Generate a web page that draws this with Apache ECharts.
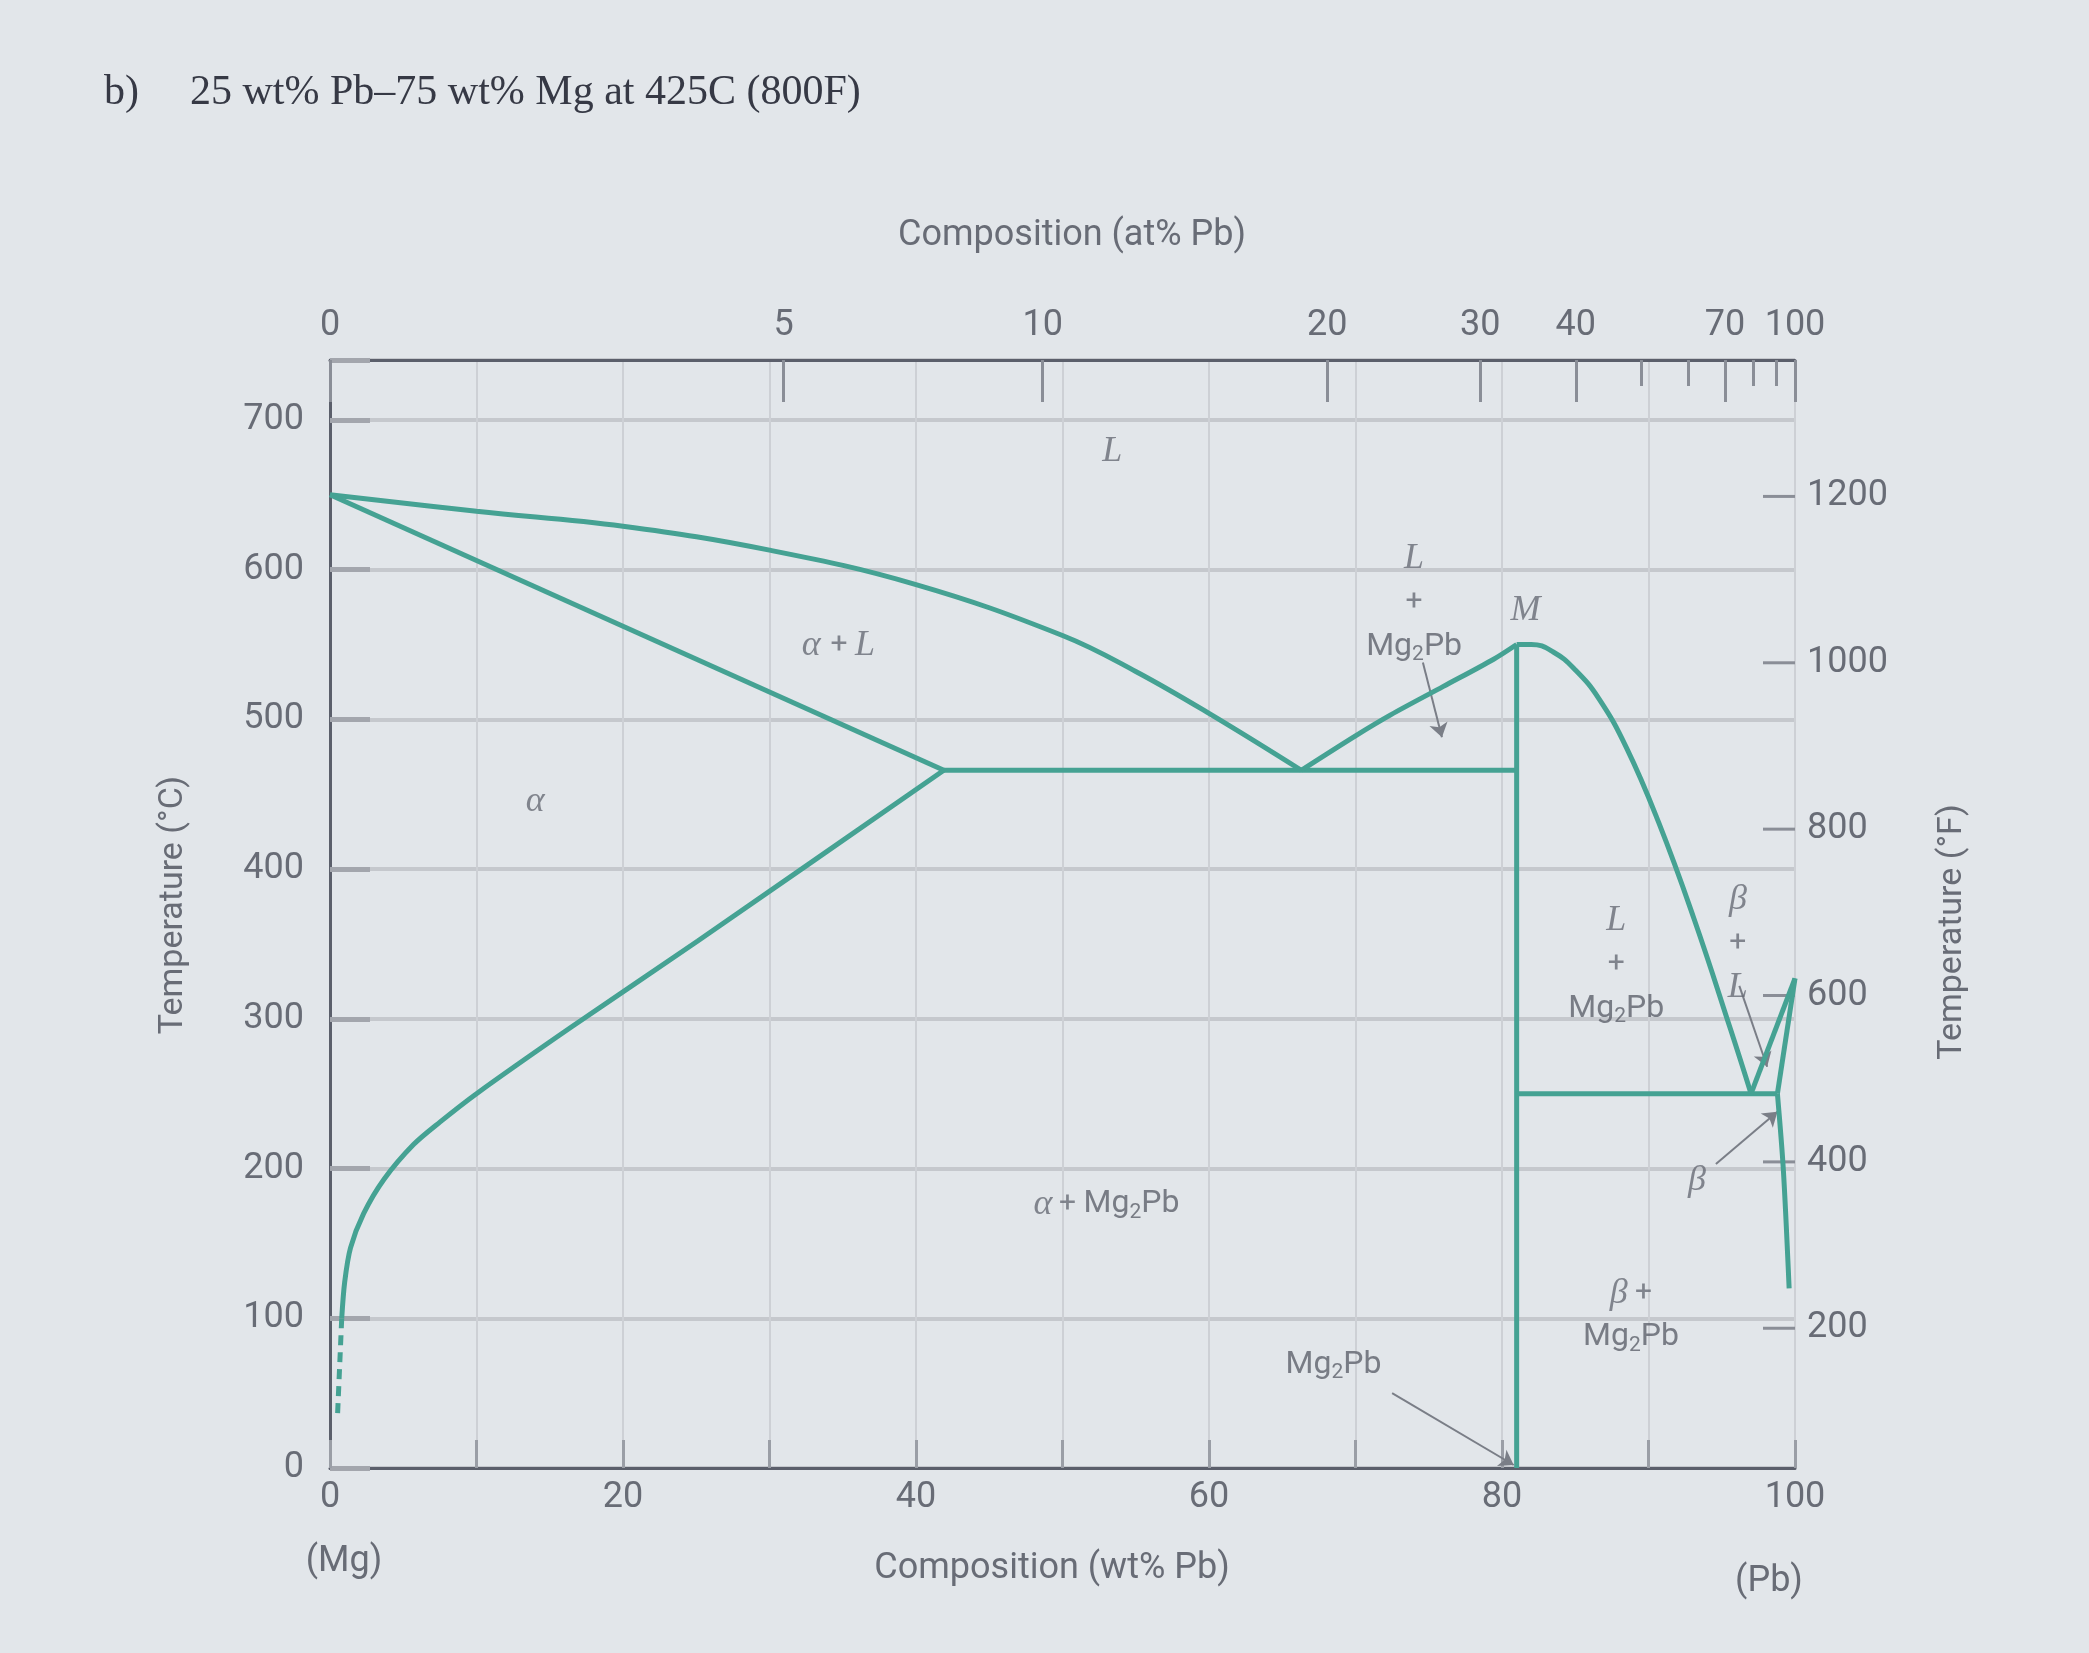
<!DOCTYPE html>
<html><head><meta charset="utf-8">
<script src="https://cdn.jsdelivr.net/npm/echarts/dist/echarts.min.js"></script>
<style>html,body{margin:0;padding:0;background:#e2e6ea;}#c{width:2089px;height:1653px;}</style>
</head><body><div id="c"></div>
<script>
// ---- data: composition (wt% Pb), temperature (°C) ----
const liquidusMg = [[0,650],[10,639],[20,629],[30,613],[40,590],[50,556],[55,532],[60,504],[66.3,466]];
const solidusMg = [[0,650],[41.9,466]];
const solvusMg = [[41.9,466],[25.1,352],[16.4,294],[10,250],[7.5,231],[5.7,216],[3.7,193],[2.3,170],[1.4,147],[1.0,124],[0.8,100]];
const solvusMgDashed = [[0.8,100],[0.5,32]];
const eutecticMg = [[41.9,466],[81,466]];
const mg2pbLine = [[81,550],[81,0]];
const liquidusM_left = [[66.3,466],[70,489],[72.4,503],[76,522],[79.4,540],[81,550]];
const liquidusM_right = [[81,550],[82,550],[83.5,545],[85,533],[86.6,514],[88.5,481],[90.7,431],[93.1,367],[95.6,293],[97,250]];
const eutecticPb = [[81,250],[98.8,250]];
const liquidusPb = [[97,250],[100,327]];
const solidusPb = [[100,327],[98.8,250]];
const solvusPb = [[98.8,250],[99.2,200],[99.6,120]];

// ---- axis ticks ----
const tempTicksC = [0,100,200,300,400,500,600,700];
const wtLabels = [0,20,40,60,80,100];
const atMajorTicks = [0,5,10,20,30,40,70,100];
const atMinorTicks = [50,60,80,90];
const fahrenheitTicks = [200,400,600,800,1000,1200];

// ---- annotation arrows [from, to] in data coords ----
const arrowLMg2Pb = [[74.6,538],[75.9,488]];
const arrowBetaL = [[96.2,322],[98.1,268]];
const arrowBeta = [[94.6,203],[98.8,238]];
const arrowMg2Pb = [[72.5,50],[80.8,2]];

// ---- phase region labels (anchor in data coords) ----
const phaseLabels = [
  {pos:[53.4,679], text:'{i|L}'},
  {pos:[34.7,549], text:'{i|α}   {p|+ }{i|L}'},
  {pos:[14,445], text:'{i|α}'},
  {pos:[74.0,578], text:'{i|L}\n{p|+}\n{n|Mg}{s|2}{n|Pb}'},
  {pos:[81.6,573], text:'{i|M}'},
  {pos:[87.8,336], text:'{i|L}\n{p|+}\n{n|Mg}{s|2}{n|Pb}'},
  {pos:[96.1,350], text:'{i|β}\n{p|+}\n{i|L}'},
  {pos:[53,176], text:'{i|α}  {p|+ }{n|Mg}{s|2}{n|Pb}'},
  {pos:[93.3,192], text:'{i|β}'},
  {pos:[88.8,102], text:'{i|β}{p| +}\n{n|Mg}{s|2}{n|Pb}'},
  {pos:[68.5,69], text:'{n|Mg}{s|2}{n|Pb}'}
];

const M_PB = 207.2, M_MG = 24.305;
function atToWt(a){ return a*M_PB/(a*M_PB+(100-a)*M_MG)*100; }
const cToF = c => c*1.8+32;
const fToC = f => (f-32)/1.8;

const TEAL = '#45a293';
const AXIS = '#5b5f6b';
const TXT = '#686c76';
const YMAX = 740;

function boundary(data, extra){
  return Object.assign({type:'line', data:data, symbol:'none', silent:true, z:5,
    lineStyle:{color:TEAL, width:5}, animation:false}, extra||{});
}
function arrow(pair, curv){
  return [{coord:pair[0]},{coord:pair[1], lineStyle:{curveness:curv||0}}];
}

const richStyle = {
  i:{fontFamily:'Liberation Serif', fontStyle:'italic', fontSize:36, color:TXT, lineHeight:44},
  p:{fontFamily:'Roboto', fontSize:30, color:TXT, lineHeight:44},
  n:{fontFamily:'Roboto', fontSize:32, color:'#5e626b', lineHeight:44},
  s:{fontFamily:'Roboto', fontSize:21, color:'#5e626b', lineHeight:44, padding:[16,0,0,0]}
};

const chart = echarts.init(document.getElementById('c'), null, {renderer:'canvas'});
chart.setOption({
  animation:false,
  backgroundColor:'#e2e6ea',
  grid:{left:330, top:360, width:1465, height:1108},
  xAxis:[
    {type:'value', position:'bottom', min:0, max:100, interval:10,
     axisLine:{show:true, lineStyle:{color:AXIS, width:3}},
     axisTick:{show:true, inside:true, length:28, lineStyle:{color:'#9a9ea6', width:3}},
     axisLabel:{margin:12, fontFamily:'Roboto', fontSize:36, color:TXT,
       formatter:v => wtLabels.includes(v) ? String(v) : ''},
     splitLine:{show:true, lineStyle:{color:'#cdd0d5', width:2}}},
    {type:'value', position:'top', min:0, max:100,
     axisLine:{show:true, lineStyle:{color:AXIS, width:3}},
     axisTick:{show:true, inside:true, length:42, lineStyle:{color:'#8a8e97', width:3},
       customValues: atMajorTicks.map(atToWt)},
     axisLabel:{margin:16, fontFamily:'Roboto', fontSize:36, color:TXT,
       customValues: atMajorTicks.map(atToWt),
       formatter:v => { const a = atMajorTicks.find(t => Math.abs(atToWt(t)-v) < 0.01); return a===undefined ? '' : String(a); }},
     splitLine:{show:false}},
    {type:'value', position:'top', min:0, max:100,
     axisLine:{show:false},
     axisTick:{show:true, inside:true, length:26, lineStyle:{color:'#8a8e97', width:3},
       customValues: atMinorTicks.map(atToWt)},
     axisLabel:{show:false},
     splitLine:{show:false}}
  ],
  yAxis:[
    {type:'value', position:'left', min:0, max:YMAX, interval:100,
     axisLine:{show:true, lineStyle:{color:AXIS, width:3}},
     axisTick:{show:true, inside:true, length:40, lineStyle:{color:'#a3a6ad', width:5}},
     axisLabel:{margin:26, fontFamily:'Roboto', fontSize:36, color:TXT,
       formatter:v => tempTicksC.includes(v) ? String(v) : ''},
     splitLine:{show:true, lineStyle:{color:'#c5c8cd', width:4}}},
    {type:'value', position:'right', min:cToF(0), max:cToF(YMAX),
     axisLine:{show:true, lineStyle:{color:AXIS, width:3}},
     axisTick:{show:false},
     axisLabel:{margin:12, fontFamily:'Roboto', fontSize:36, color:TXT, customValues:fahrenheitTicks,
       formatter:v => String(Math.round(v))},
     splitLine:{show:false}}
  ],
  series:[
    boundary(liquidusMg, {smooth:0.4}),
    boundary(solidusMg),
    boundary(solvusMg, {smooth:0.3}),
    boundary(solvusMgDashed, {lineStyle:{color:TEAL, width:5, type:[10,7]}}),
    boundary(eutecticMg),
    boundary(mg2pbLine),
    boundary(liquidusM_left, {smooth:0.3}),
    boundary(liquidusM_right, {smooth:0.45}),
    boundary(eutecticPb),
    boundary(liquidusPb),
    boundary(solidusPb),
    boundary(solvusPb, {smooth:0.3,
      markLine:{silent:true, symbol:['none','arrow'], symbolSize:14, animation:false,
        label:{show:false},
        lineStyle:{color:'#7a7e87', width:2, type:'solid'},
        data:[arrow(arrowLMg2Pb), arrow(arrowBetaL), arrow(arrowBeta), arrow(arrowMg2Pb, -0.3)]}}),
    {type:'custom', silent:true, z:4, animation:false,
     data: fahrenheitTicks.map(f => [100, fToC(f)]),
     renderItem:(params, api) => {
       const p = api.coord([api.value(0), api.value(1)]);
       return {type:'line', shape:{x1:p[0]-32, y1:p[1], x2:p[0], y2:p[1]},
               style:{stroke:'#8a8e97', lineWidth:3}};
     }},
    {type:'scatter', symbolSize:0, silent:true, z:10, animation:false,
     data: phaseLabels.map(l => ({value:l.pos, label:{formatter:l.text}})),
     label:{show:true, position:'inside', align:'center', verticalAlign:'middle', rich:richStyle}}
  ],
  graphic:[
    {type:'text', x:104, y:93, style:{text:'b)', font:'42px "Liberation Serif"', fill:'#363945', textVerticalAlign:'middle'}},
    {type:'text', x:190, y:93, style:{text:'25 wt% Pb–75 wt% Mg at 425C (800F)', font:'42px "Liberation Serif"', fill:'#363945', textVerticalAlign:'middle'}},
    {type:'text', x:1072, y:236, style:{text:'Composition (at% Pb)', font:'36px Roboto', fill:TXT, textAlign:'center', textVerticalAlign:'middle'}},
    {type:'text', x:1052, y:1569, style:{text:'Composition (wt% Pb)', font:'36px Roboto', fill:TXT, textAlign:'center', textVerticalAlign:'middle'}},
    {type:'text', x:344, y:1562, style:{text:'(Mg)', font:'36px Roboto', fill:TXT, textAlign:'center', textVerticalAlign:'middle'}},
    {type:'text', x:1769, y:1582, style:{text:'(Pb)', font:'36px Roboto', fill:TXT, textAlign:'center', textVerticalAlign:'middle'}},
    {type:'text', x:173, y:905, rotation:Math.PI/2, style:{text:'Temperature (°C)', font:'34px Roboto', fill:TXT, textAlign:'center', textVerticalAlign:'middle'}},
    {type:'text', x:1952, y:932, rotation:Math.PI/2, style:{text:'Temperature (°F)', font:'34px Roboto', fill:TXT, textAlign:'center', textVerticalAlign:'middle'}}
  ]
});
</script></body></html>
